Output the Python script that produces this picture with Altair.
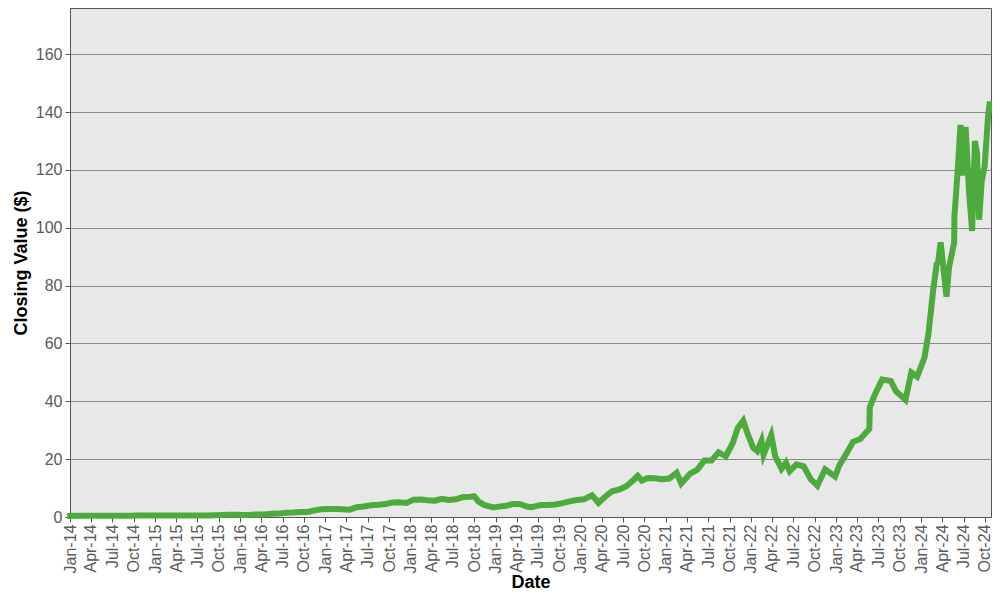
import altair as alt
import pandas as pd

dates = [
    "2014-01-02","2014-02-15","2014-03-15","2014-04-15","2014-05-15","2014-06-15","2014-07-15","2014-08-15","2014-09-15","2014-10-15","2014-11-15","2014-12-15",
    "2015-01-15","2015-02-15","2015-03-15","2015-04-15","2015-05-15","2015-06-15","2015-07-15","2015-08-15","2015-09-15","2015-10-15","2015-11-15","2015-12-15",
    "2016-01-15","2016-02-15","2016-03-15","2016-04-15","2016-05-15","2016-06-15","2016-07-15","2016-08-15","2016-09-15","2016-10-15","2016-11-15","2016-12-15",
    "2017-01-15","2017-02-15","2017-03-15","2017-04-15","2017-05-15","2017-06-15","2017-07-15","2017-08-15","2017-09-15","2017-10-15","2017-11-15","2017-12-15",
    "2018-01-15","2018-02-15","2018-03-15","2018-04-15","2018-05-15","2018-06-15","2018-07-15","2018-08-15","2018-09-15","2018-10-01","2018-10-20","2018-11-15","2018-12-24",
    "2019-01-15","2019-02-15","2019-03-15","2019-04-15","2019-05-15","2019-06-03","2019-07-15","2019-08-15","2019-09-15","2019-10-15","2019-11-15","2019-12-15",
    "2020-01-15","2020-02-19","2020-03-18","2020-04-15","2020-05-15","2020-06-15","2020-07-15","2020-08-15","2020-09-02","2020-09-20","2020-10-15","2020-11-15","2020-12-15",
    "2021-01-15","2021-02-16","2021-03-08","2021-04-15","2021-05-15","2021-06-15","2021-07-15","2021-08-15","2021-09-15","2021-10-15","2021-11-05","2021-11-29","2021-12-15",
    "2022-01-10","2022-01-28","2022-02-15","2022-02-24","2022-03-29","2022-04-15","2022-05-12","2022-05-31","2022-06-16","2022-07-15","2022-08-15","2022-09-15","2022-10-13","2022-11-15","2022-12-28",
    "2023-01-15","2023-02-15","2023-03-15","2023-04-15","2023-05-24","2023-05-26","2023-06-15","2023-07-18","2023-08-24","2023-09-15","2023-10-26","2023-11-20","2023-12-15",
    "2024-01-15","2024-02-01","2024-02-22","2024-03-08","2024-03-14","2024-03-25","2024-04-19","2024-04-30","2024-05-22","2024-05-23","2024-06-07","2024-06-18","2024-06-24","2024-07-10","2024-07-25","2024-08-07","2024-08-19","2024-08-28","2024-09-06","2024-09-17","2024-09-30","2024-10-14","2024-10-22","2024-10-25",
]
closes = [
    0.40,0.44,0.45,0.44,0.47,0.46,0.44,0.46,0.46,0.48,0.50,0.50,
    0.48,0.55,0.52,0.55,0.55,0.50,0.50,0.56,0.62,0.71,0.80,0.82,
    0.73,0.78,0.89,0.89,1.16,1.17,1.43,1.53,1.71,1.72,2.30,2.67,
    2.73,2.73,2.72,2.55,3.40,3.61,4.05,4.20,4.47,5.00,5.10,4.84,
    6.00,6.05,5.79,5.62,6.30,5.92,6.12,6.89,7.02,7.20,5.30,4.09,3.30,
    3.59,3.86,4.49,4.52,3.60,3.40,4.11,4.19,4.35,4.80,5.42,5.88,
    6.10,7.50,4.90,7.00,8.92,9.50,10.61,12.80,14.20,12.60,13.50,13.39,13.05,
    13.30,15.30,11.60,15.01,16.29,19.50,19.50,22.40,21.00,25.60,30.70,33.30,29.40,
    24.00,22.80,26.30,21.50,28.30,21.00,16.70,18.80,15.80,18.20,17.50,13.00,10.80,16.50,14.00,
    17.80,22.00,26.00,27.00,30.50,38.00,42.00,47.50,47.00,43.50,40.50,50.00,48.50,
    55.00,63.00,78.50,87.50,88.00,95.00,76.20,86.40,94.90,103.80,120.90,135.60,118.10,134.90,112.30,98.90,130.00,125.60,102.80,116.00,121.40,138.10,143.60,141.50,
]

df = pd.DataFrame({"Date": dates, "Close": closes})

chart = (
    alt.Chart(df)
    .mark_line(color="#4DAA3C", strokeWidth=6, strokeJoin="miter", strokeCap="square")
    .encode(
        x=alt.X(
            "Date:T",
            title="Date",
            scale=alt.Scale(
                type="utc",
                domain=[
                    alt.DateTime(year=2014, month=1, date=1, utc=True),
                    alt.DateTime(year=2024, month=10, date=27, utc=True),
                ],
                nice=False,
            ),
            axis=alt.Axis(
                format="%b-%y",
                tickCount=alt.TimeIntervalStep(interval="month", step=3),
                labelAngle=270,
                grid=False,
                labelFontSize=16,
                labelColor="#5a5a5a",
                labelFont="Liberation Sans",
                titleFont="Liberation Sans",
                titleFontSize=18,
                titleFontWeight="bold",
                titleColor="#000000",
                domainColor="#555555",
                tickColor="#555555",
                tickSize=5,
                labelPadding=2,
                titlePadding=1,
                labelOverlap=False,
            ),
        ),
        y=alt.Y(
            "Close:Q",
            title="Closing Value ($)",
            scale=alt.Scale(domain=[0, 176], nice=False),
            axis=alt.Axis(
                values=[0, 20, 40, 60, 80, 100, 120, 140, 160],
                grid=True,
                gridColor="#8a8a8a",
                gridWidth=1,
                labelFontSize=16,
                labelColor="#5a5a5a",
                labelFont="Liberation Sans",
                titleFont="Liberation Sans",
                titleFontSize=18,
                titleFontWeight="bold",
                titleColor="#000000",
                domainColor="#555555",
                tickColor="#555555",
                tickSize=5,
                labelPadding=3,
                titlePadding=5,
            ),
        ),
    )
    .properties(
        width=921,
        height=509,
        autosize=alt.AutoSizeParams(type="none"),
        padding={"left": 62, "top": 0, "right": 1, "bottom": 75},
    )
    .configure_view(fill="#E8E8E8", stroke="#555555", strokeWidth=1)
)

chart.save("out.html", embed_options={"renderer": "svg", "actions": False})
